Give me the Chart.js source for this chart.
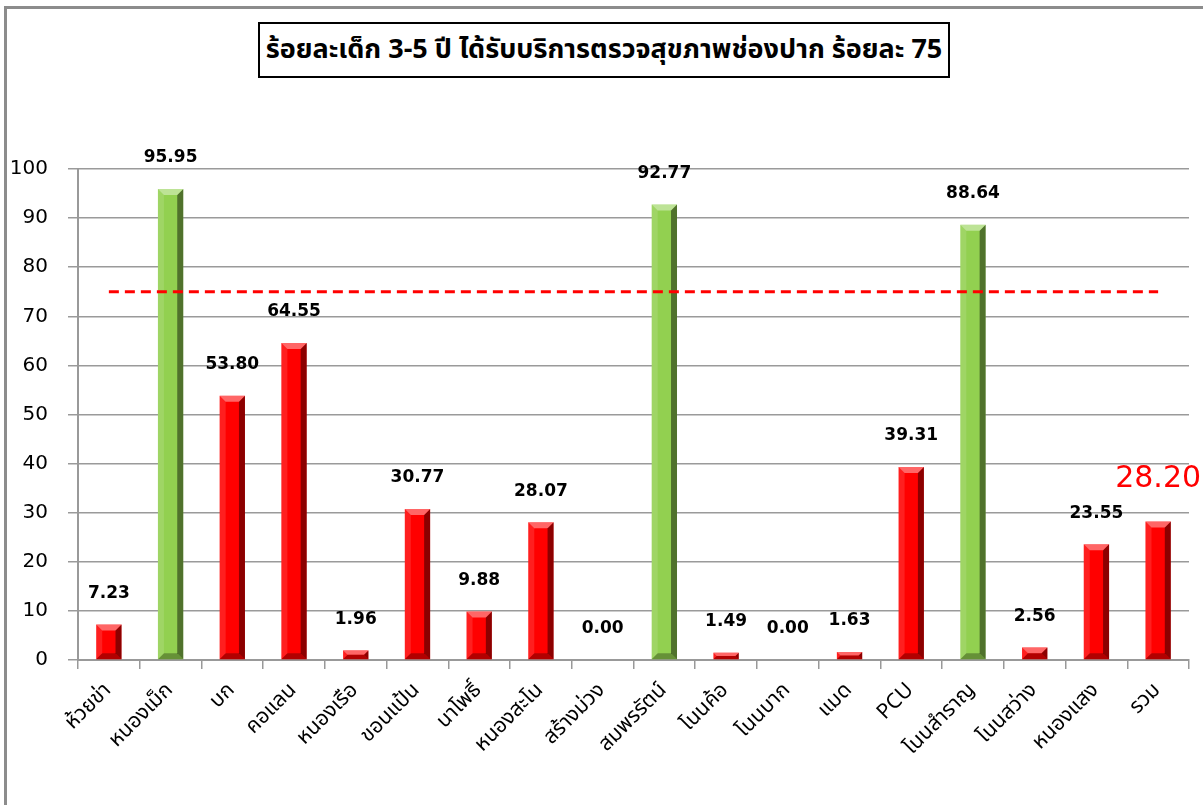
<!DOCTYPE html>
<html>
<head>
<meta charset="utf-8">
<script src="https://cdn.jsdelivr.net/npm/chart.js@4/dist/chart.umd.min.js"></script>
<style>
    html, body {
        margin: 0;
        padding: 0;
        background: #fff;
    }

    .frame {
        position: absolute;
        left: 4px;
        top: 6px;
        width: 1210px;
        height: 820px;
        border-top: 3px solid #8c8c8c;
        border-left: 3px solid #8c8c8c;
    }

    .wrap {
        position: absolute;
        left: 0;
        top: 0;
        width: 1203px;
        height: 805px;
    }

    .title-box {
        position: absolute;
        left: 258px;
        top: 22px;
        width: 688px;
        height: 52px;
        border: 2px solid #000;
        background: #fff;
        font-family: "Noto Sans Thai", "Noto Sans", "DejaVu Sans", sans-serif;
        font-weight: bold;
        font-size: 27px;
        line-height: 52px;
        text-align: center;
        white-space: nowrap;
        color: #000;
    }
</style>
</head>
<body>

<div class="frame"></div>
<div class="wrap">
    <canvas id="oralChart" width="1203" height="805"></canvas>
</div>
<div class="title-box">ร้อยละเด็ก 3-5 ปี ได้รับบริการตรวจสุขภาพช่องปาก ร้อยละ 75</div>

<script>
/* =========================
   DATA
========================= */

const areas = [
    "ห้วยข่า", "หนองเม็ก", "บก", "คอแลน", "หนองเรือ", "ขอนแป้น",
    "นาโพธิ์", "หนองสะโน", "สร้างม่วง", "สมพรรัตน์", "โนนค้อ", "โนนบาก",
    "แมด", "PCU", "โนนสำราญ", "โนนสว่าง", "หนองแสง", "รวม"
];

const percentValues = [
    7.23, 95.95, 53.80, 64.55, 1.96, 30.77,
    9.88, 28.07, 0.00, 92.77, 1.49, 0.00,
    1.63, 39.31, 88.64, 2.56, 23.55, 28.20
];

const targetValue = 75;
const targetLine = areas.map(() => targetValue);

const yTicks = [0, 10, 20, 30, 40, 50, 60, 70, 80, 90, 100];

const thaiFont = '"Noto Sans Thai", "Noto Sans", "DejaVu Sans", sans-serif';

/* =========================
   BAR BEVEL + LABELS
========================= */

const bevelPlugin = {
    id: "bevel",
    afterDatasetDraw(chart, args) {
        if (args.index !== 0) return;
        const ctx = chart.ctx;
        const meta = chart.getDatasetMeta(0);

        meta.data.forEach(bar => {
            const p = bar.getProps(["x", "y", "base", "width"], true);
            const h = p.base - p.y;
            if (h <= 0) return;

            const l = p.x - p.width / 2;
            const r = p.x + p.width / 2;
            const t = p.y;
            const b = p.base;
            const s = Math.min(6, h / 2);

            ctx.save();

            // right shade
            ctx.fillStyle = "rgba(0,0,0,0.45)";
            ctx.beginPath();
            ctx.moveTo(r - s, t + s);
            ctx.lineTo(r, t);
            ctx.lineTo(r, b);
            ctx.lineTo(r - s, b - s);
            ctx.closePath();
            ctx.fill();

            // left light
            ctx.fillStyle = "rgba(255,255,255,0.12)";
            ctx.beginPath();
            ctx.moveTo(l, t);
            ctx.lineTo(l + s, t + s);
            ctx.lineTo(l + s, b - s);
            ctx.lineTo(l, b);
            ctx.closePath();
            ctx.fill();

            // top light
            ctx.fillStyle = "rgba(255,255,255,0.4)";
            ctx.beginPath();
            ctx.moveTo(l, t);
            ctx.lineTo(r, t);
            ctx.lineTo(r - s, t + s);
            ctx.lineTo(l + s, t + s);
            ctx.closePath();
            ctx.fill();

            // bottom shade
            ctx.fillStyle = "rgba(0,0,0,0.3)";
            ctx.beginPath();
            ctx.moveTo(l, b);
            ctx.lineTo(l + s, b - s);
            ctx.lineTo(r - s, b - s);
            ctx.lineTo(r, b);
            ctx.closePath();
            ctx.fill();

            ctx.restore();
        });
    }
};

const valueLabelPlugin = {
    id: "valueLabels",
    afterDatasetsDraw(chart) {
        const ctx = chart.ctx;
        const meta = chart.getDatasetMeta(0);
        const last = percentValues.length - 1;

        ctx.save();
        ctx.textAlign = "center";
        ctx.textBaseline = "middle";

        meta.data.forEach((bar, i) => {
            const text = percentValues[i].toFixed(2);
            if (i === last) {
                ctx.fillStyle = "#ff0000";
                ctx.font = '30px "DejaVu Sans", sans-serif';
                ctx.fillText(text, bar.x, bar.y - 42);
            } else {
                ctx.fillStyle = "#000";
                ctx.font = 'bold 17px "DejaVu Sans", sans-serif';
                ctx.fillText(text, bar.x, bar.y - 31);
            }
        });

        ctx.restore();
    }
};

/* =========================
   CHART
========================= */

const barColors = percentValues.map(v => v >= targetValue ? "#92d050" : "#ff0000");

new Chart(document.getElementById("oralChart"), {

    data: {
        labels: areas,
        datasets: [
            {
                type: "bar",
                data: percentValues,
                backgroundColor: barColors,
                barPercentage: 0.41,
                categoryPercentage: 1,
                order: 2
            },
            {
                type: "line",
                data: targetLine,
                borderColor: "#ff0000",
                borderWidth: 3,
                borderDash: [10, 6],
                pointRadius: 0,
                fill: false,
                order: 1
            }
        ]
    },

    options: {
        responsive: false,
        animation: false,
        layout: {
            padding: { left: 0, right: 14, top: 169, bottom: 0 }
        },
        plugins: {
            legend: { display: false },
            tooltip: { enabled: false }
        },
        scales: {
            x: {
                offset: true,
                grid: {
                    offset: true,
                    drawOnChartArea: false,
                    drawTicks: true,
                    tickLength: 9,
                    color: "#999",
                    lineWidth: 1.5
                },
                border: { color: "#999", width: 2 },
                ticks: {
                    autoSkip: false,
                    maxRotation: 45,
                    minRotation: 45,
                    padding: 10,
                    color: "#000",
                    font: { family: thaiFont, size: 21 }
                },
                afterFit(scale) {
                    scale.height = 145;
                }
            },
            y: {
                min: 0,
                max: 100,
                afterBuildTicks(scale) {
                    scale.ticks = yTicks.map(v => ({ value: v }));
                },
                grid: {
                    color: "#9a9a9a",
                    lineWidth: 1.5,
                    tickLength: 10
                },
                border: { color: "#999", width: 2 },
                ticks: {
                    padding: 20,
                    color: "#000",
                    font: { family: '"DejaVu Sans", sans-serif', size: 20 }
                },
                afterFit(scale) {
                    scale.width = 78;
                }
            }
        }
    },

    plugins: [bevelPlugin, valueLabelPlugin]
});
</script>
</body>
</html>
